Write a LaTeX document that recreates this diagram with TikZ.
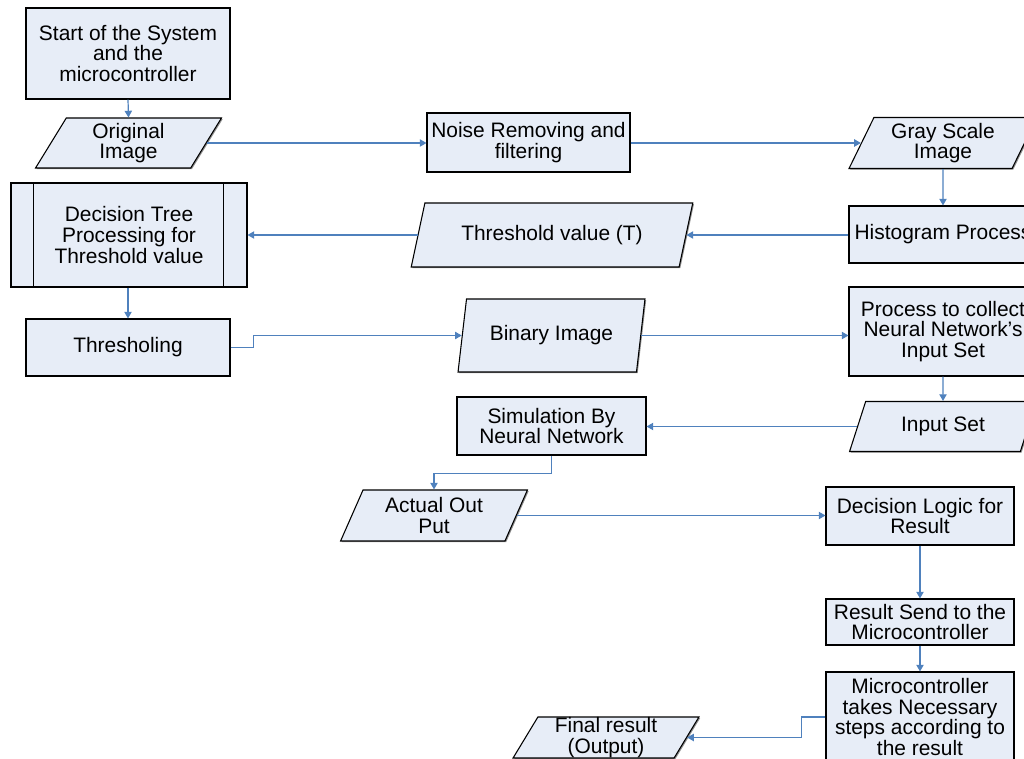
\documentclass[tikz,border=0pt]{standalone}
\usepackage{fontspec}
\setmainfont{Liberation Sans}
\usetikzlibrary{shapes.geometric,arrows.meta,shadows,calc}
\definecolor{boxfill}{RGB}{231,237,247}
\definecolor{linkblue}{RGB}{79,129,189}
\def\px{0.75pt}
\tikzset{
  base/.style={draw=black, line width=0.8pt, fill=boxfill, inner sep=0pt, align=center,
    font=\fontsize{15.7pt}{15.4pt}\selectfont,
    drop shadow={shadow xshift=0.9pt, shadow yshift=-0.9pt, fill=black!55, opacity=0.8}},
  procbox/.style={base, rectangle},
  iobox/.style={base, trapezium, trapezium stretches=true,
    trapezium left angle=#1, trapezium right angle={180-#1}},
  link/.style={draw=linkblue, line width=0.9pt, -{Triangle[length=5pt,width=5.5pt]}},
}
\begin{document}
\begin{tikzpicture}[x=0.75pt,y=-0.75pt]
\useasboundingbox (0,0) rectangle (1024,759);
\clip (0,0) rectangle (1024,759);
% process boxes
\node[procbox, minimum width=204*\px, minimum height=91*\px] (start) at (128,53.5) {Start of the System\\and the\\microcontroller};
\node[procbox, minimum width=203*\px, minimum height=59*\px] (noise) at (528.5,142.5) {Noise Removing and\\filtering};
\node[procbox, minimum width=188*\px, minimum height=57*\px] (hist) at (943,234.5) {Histogram Process};
\node[procbox, minimum width=236*\px, minimum height=104*\px] (dtree) at (129,235) {Decision Tree\\Processing for\\Threshold value};
\draw[line width=0.8pt] ([xshift=23*\px]dtree.north west) -- ([xshift=23*\px]dtree.south west);
\draw[line width=0.8pt] ([xshift=-24*\px]dtree.north east) -- ([xshift=-24*\px]dtree.south east);
\node[procbox, minimum width=204*\px, minimum height=57*\px] (thr) at (128,347.5) {Thresholing};
\node[procbox, minimum width=188*\px, minimum height=89*\px] (proc) at (943,331.5) {Process to collect\\Neural Network’s\\Input Set};
\node[procbox, minimum width=189*\px, minimum height=58*\px] (sim) at (551.5,426) {Simulation By\\Neural Network};
\node[procbox, minimum width=188*\px, minimum height=58*\px] (dlogic) at (920,516) {Decision Logic for\\Result};
\node[procbox, minimum width=188*\px, minimum height=46*\px] (rsend) at (920,622) {Result Send to the\\Microcontroller};
\node[procbox, minimum width=188*\px, minimum height=90*\px] (micro) at (920,717) {Microcontroller\\takes Necessary\\steps according to\\the result};
% input/output parallelograms
\node[iobox=66, minimum width=187*\px, minimum height=50*\px] (orig) at (128.5,143) {Original\\Image};
\node[iobox=65, minimum width=188*\px, minimum height=51*\px] (gray) at (943,143) {Gray Scale\\Image};
\node[iobox=63.4, minimum width=282*\px, minimum height=64*\px] (thresh) at (552,235) {Threshold value (T)};
\node[iobox=72.5, minimum width=187*\px, minimum height=73*\px] (binary) at (551.5,335.5) {Binary Image};
\node[iobox=65.3, minimum width=188*\px, minimum height=50*\px] (input) at (943,426.5) {Input Set};
\node[iobox=66.7, minimum width=188*\px, minimum height=51*\px] (actual) at (434,515.5) {Actual Out\\Put};
\node[iobox=65, minimum width=186*\px, minimum height=41*\px] (final) at (606,737.5) {Final result\\(Output)};
% connectors
\draw[link] (start.south) -- (orig.north);
\draw[link] (orig.east) -- (orig.east -| noise.west);
\draw[link] (noise.east |- gray.west) -- (gray.west);
\draw[link] (gray.south) -- (hist.north);
\draw[link] (hist.west |- thresh.east) -- (thresh.east);
\draw[link] (thresh.west) -- (thresh.west -| dtree.east);
\draw[link] (dtree.south -| thr.north) -- (thr.north);
\draw[link] (thr.east) -- ++(23,0) |- (binary.west);
\draw[link] (binary.east) -- (binary.east -| proc.west);
\draw[link] (proc.south) -- (input.north);
\draw[link] (input.west) -- (input.west -| sim.east);
\draw[link] (sim.south) -- ++(0,18) -| (actual.north);
\draw[link] (actual.east) -- (actual.east -| dlogic.west);
\draw[link] (dlogic.south) -- (rsend.north);
\draw[link] (rsend.south) -- (micro.north);
\draw[link] (micro.west) -- ++(-24,0) |- (final.east);
\end{tikzpicture}
\end{document}
